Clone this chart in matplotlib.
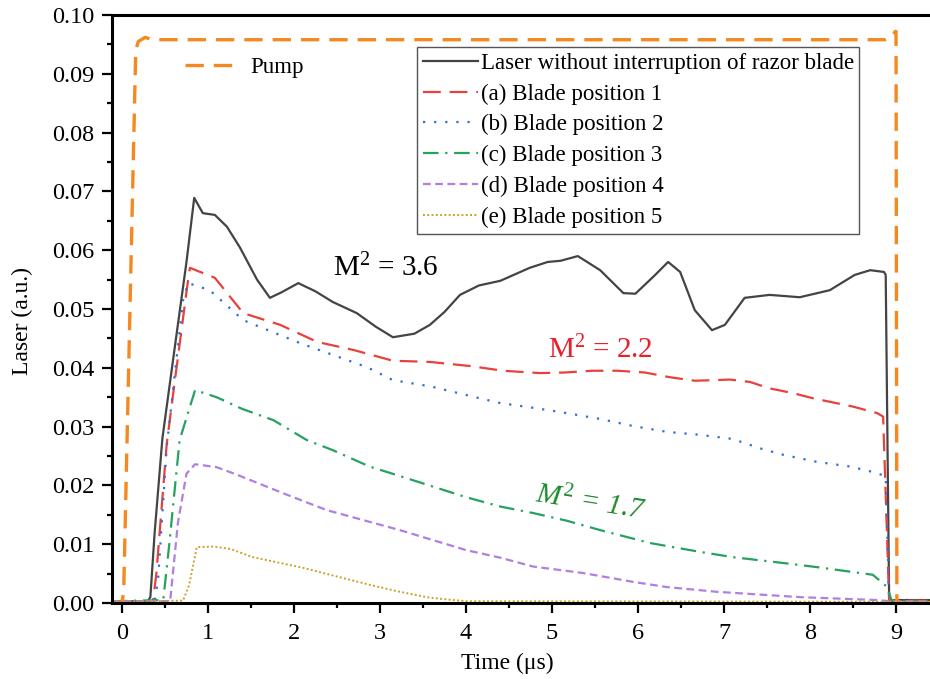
import numpy as np
import matplotlib
matplotlib.use("Agg")
import matplotlib.pyplot as plt
from matplotlib.ticker import MultipleLocator, FormatStrFormatter

plt.rcParams["font.family"] = ["Liberation Serif", "DejaVu Serif"]
plt.rcParams["mathtext.fontset"] = "custom"
plt.rcParams["mathtext.rm"] = "Liberation Serif"
plt.rcParams["mathtext.it"] = "Liberation Serif:italic"

# ── Data (time in µs, laser in a.u.) ─────────────────────────────
t_pump = [-0.12, 0.0, 0.02, 0.16, 0.19, 0.27, 0.35, 8.88, 8.95, 8.99, 9.00, 9.01, 9.40]
pump   = [0.0, 0.0, 0.002, 0.094, 0.0955, 0.0962, 0.0958, 0.0958, 0.0962, 0.0972, 0.0972, 0.0, 0.0]

t_laser = [-0.12, 0.30, 0.33, 0.38, 0.47, 0.60, 0.75, 0.84, 0.94, 1.08, 1.22, 1.37,
           1.57, 1.72, 1.85, 2.05, 2.25, 2.45, 2.73, 2.95, 3.15, 3.40, 3.58, 3.75,
           3.93, 4.15, 4.40, 4.74, 4.95, 5.10, 5.30, 5.56, 5.83, 5.97, 6.20, 6.35,
           6.49, 6.66, 6.86, 7.01, 7.24, 7.53, 7.88, 8.23, 8.52, 8.70, 8.86, 8.88,
           8.92, 9.00, 9.40]
laser   = [0.0003, 0.0003, 0.001, 0.012, 0.028, 0.042, 0.058, 0.0689, 0.0663, 0.066,
           0.064, 0.0605, 0.055, 0.0519, 0.0528, 0.0544, 0.053, 0.0512, 0.0493, 0.047,
           0.0452, 0.0458, 0.0473, 0.0495, 0.0524, 0.054, 0.0548, 0.057, 0.058, 0.0582,
           0.059, 0.0566, 0.0527, 0.0526, 0.0558, 0.058, 0.0563, 0.0498, 0.0464, 0.0473,
           0.0519, 0.0524, 0.052, 0.0532, 0.0558, 0.0566, 0.0563, 0.0558, 0.0004,
           0.0005, 0.0005]

t_a = [-0.12, 0.36, 0.40, 0.52, 0.62, 0.76, 0.79, 1.08, 1.41, 1.84, 2.27, 2.70, 3.15,
       3.58, 4.05, 4.43, 4.86, 5.15, 5.47, 5.76, 6.08, 6.37, 6.66, 6.88, 7.07, 7.30,
       7.53, 7.80, 8.04, 8.50, 8.78, 8.85, 8.92, 9.40]
blade_a = [0.0003, 0.0003, 0.005, 0.027, 0.0384, 0.054, 0.057, 0.0553, 0.0493, 0.0473,
           0.0444, 0.043, 0.0412, 0.041, 0.0403, 0.0395, 0.0391, 0.0392, 0.0395, 0.0395,
           0.0392, 0.0384, 0.0378, 0.0379, 0.038, 0.0376, 0.0365, 0.0357, 0.0348, 0.0334,
           0.0323, 0.0317, 0.0004, 0.0004]

t_b = [-0.12, 0.38, 0.42, 0.52, 0.71, 0.77, 1.02, 1.41, 2.07, 2.85, 3.15, 3.60, 4.05,
       4.40, 4.78, 5.17, 5.56, 5.94, 6.34, 6.72, 7.10, 7.42, 7.69, 8.08, 8.47, 8.78,
       8.88, 8.92, 9.40]
blade_b = [0.0003, 0.0003, 0.004, 0.0265, 0.0515, 0.0544, 0.0532, 0.0481, 0.0442,
           0.0401, 0.0379, 0.0368, 0.0352, 0.034, 0.0332, 0.0323, 0.0313, 0.0301, 0.0291,
           0.0286, 0.0279, 0.0263, 0.0252, 0.024, 0.0232, 0.0221, 0.0215, 0.0004, 0.0004]

t_c = [-0.12, 0.48, 0.55, 0.67, 0.85, 1.10, 1.40, 1.76, 2.15, 2.45, 2.88, 3.23, 4.00,
       4.40, 4.78, 5.17, 5.56, 6.14, 6.72, 7.10, 7.69, 8.08, 8.73, 8.90, 8.95, 9.40]
blade_c = [0.0003, 0.0005, 0.010, 0.0277, 0.0362, 0.035, 0.033, 0.0311, 0.0277, 0.026,
           0.0232, 0.0216, 0.018, 0.0164, 0.0153, 0.014, 0.0124, 0.0102, 0.0087, 0.0078,
           0.0068, 0.0061, 0.0048, 0.0027, 0.0003, 0.0003]

t_d = [-0.12, 0.56, 0.65, 0.75, 0.85, 1.10, 1.34, 1.92, 2.38, 2.88, 3.23, 4.00, 4.40,
       4.78, 5.36, 5.94, 6.34, 6.92, 7.88, 8.78, 8.93, 9.40]
blade_d = [0.0003, 0.0003, 0.0136, 0.022, 0.0236, 0.0231, 0.0218, 0.0184, 0.0158,
           0.0138, 0.0124, 0.009, 0.0077, 0.0062, 0.0051, 0.0036, 0.0027, 0.0019, 0.001,
           0.0005, 0.0003, 0.0003]

t_e = [-0.12, 0.71, 0.78, 0.87, 1.06, 1.26, 1.52, 2.10, 2.42, 2.88, 3.20, 3.58, 4.00, 9.40]
blade_e = [0.0002, 0.0004, 0.003, 0.0095, 0.0096, 0.0092, 0.0078, 0.006, 0.0048, 0.0031,
           0.002, 0.0009, 0.0003, 0.0002]

labels = ["Laser without interruption of razor blade", "(a) Blade position 1",
          "(b) Blade position 2", "(c) Blade position 3", "(d) Blade position 4",
          "(e) Blade position 5"]

# ── Figure ──────────────────────────────────────────────────────
fig = plt.figure(figsize=(9.3, 6.79), dpi=100)
ax = fig.add_axes([112 / 930, 76 / 679, 818 / 930, 588 / 679])

l0, = ax.plot(t_laser, laser, color="#444444", lw=1.6, label=labels[0])
l1, = ax.plot(t_a, blade_a, color="#e8413c", lw=1.6, dashes=(8, 4), label=labels[1])
l2, = ax.plot(t_b, blade_b, color="#2e6fd4", lw=1.6, dashes=(1, 4), label=labels[2])
l3, = ax.plot(t_c, blade_c, color="#27a060", lw=1.6, dashes=(7, 3, 1, 3), label=labels[3])
l4, = ax.plot(t_d, blade_d, color="#b07fe0", lw=1.6, dashes=(3.5, 2), label=labels[4])
l5, = ax.plot(t_e, blade_e, color="#c9a227", lw=1.4, dashes=(1, 1.2), label=labels[5])
lp, = ax.plot(t_pump, pump, color="#f5891f", lw=2.4, dashes=(5.5, 3), label="Pump")

ax.set_xlim(-0.116, 9.395)
ax.set_ylim(0, 0.10)
ax.xaxis.set_major_locator(MultipleLocator(1))
ax.xaxis.set_minor_locator(MultipleLocator(0.5))
ax.yaxis.set_major_locator(MultipleLocator(0.01))
ax.yaxis.set_minor_locator(MultipleLocator(0.005))
ax.yaxis.set_major_formatter(FormatStrFormatter("%.2f"))

ax.spines["right"].set_visible(False)
for s in ["left", "bottom", "top"]:
    ax.spines[s].set_linewidth(2.2)
ax.tick_params(which="major", direction="out", length=7.5, width=1.6, labelsize=17.5)
ax.tick_params(which="minor", direction="out", length=3.8, width=1.6)
ax.tick_params(axis="x", which="major", pad=7)
ax.tick_params(axis="y", which="major", pad=5)

ax.set_xlabel("Time (μs)", fontsize=17)
ax.set_ylabel("Laser (a.u.)", fontsize=17)
ax.xaxis.set_label_coords(0.483, -0.085)
ax.yaxis.set_label_coords(-0.097, 0.48)

# ── Legends ─────────────────────────────────────────────────────
leg = ax.legend(handles=[l0, l1, l2, l3, l4, l5], loc="upper left",
                bbox_to_anchor=(0.373, 0.9456), borderaxespad=0, fontsize=16.5,
                frameon=True, fancybox=False, edgecolor="#555555", framealpha=1,
                handlelength=2.4, handletextpad=0.12, labelspacing=0.42, borderpad=0.25)
leg.get_frame().set_linewidth(1.0)
ax.add_artist(leg)
ax.legend(handles=[lp], loc="center left", bbox_to_anchor=(0.089, 0.91),
          borderaxespad=0, borderpad=0, frameon=False, fontsize=16.5,
          handlelength=2.4, handletextpad=0.45)

# ── M² annotations ──────────────────────────────────────────────
ax.text(2.45, 0.0570, r"$\mathrm{M}^2$ = 3.6", fontsize=21, color="black",
        ha="left", va="center")
ax.text(4.95, 0.0430, r"$\mathrm{M}^2$ = 2.2", fontsize=21, color="#e8202a",
        ha="left", va="center")
ax.text(5.45, 0.0170, r"$M^2$ = 1.7", fontsize=21, color="#1f8a2c",
        fontstyle="italic", ha="center", va="center", rotation=-9)

fig.savefig("out.png", dpi=100)
